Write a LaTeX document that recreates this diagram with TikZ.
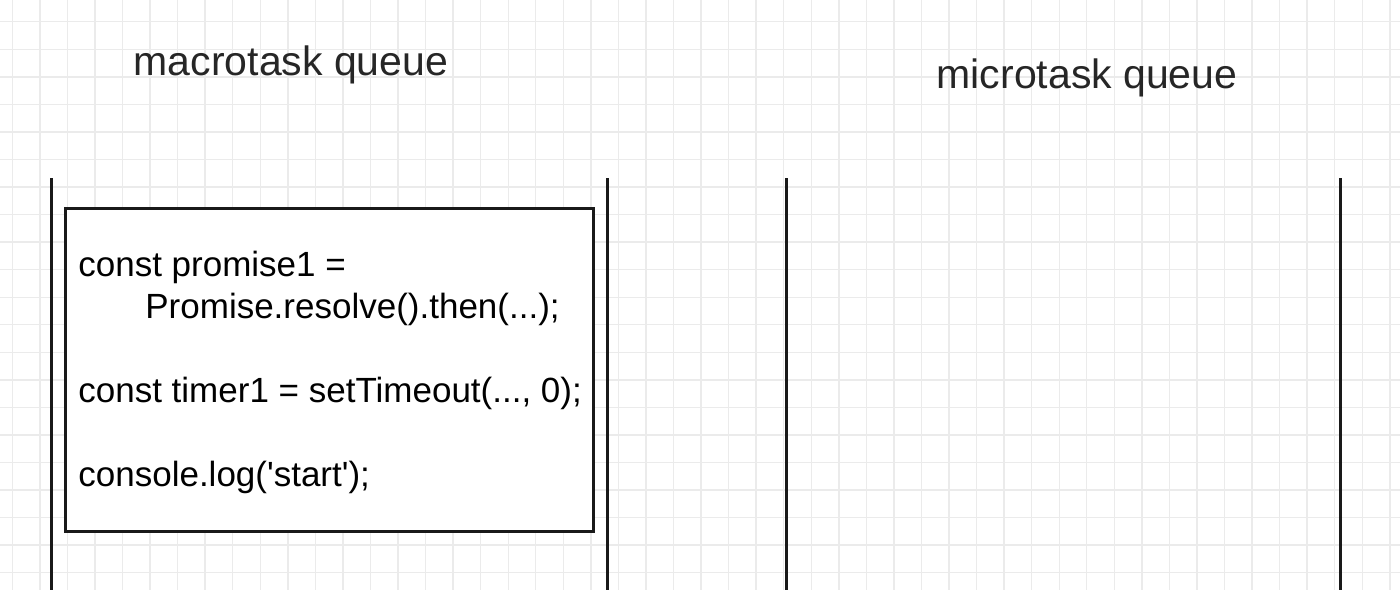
\documentclass[tikz,border=0pt]{standalone}
\usepackage{fontspec}
\setmainfont{Liberation Sans}
\begin{document}
\begin{tikzpicture}[x=0.5pt,y=-0.5pt,
    gridline/.style={draw=black!8,line width=0.7pt},
    wall/.style={draw=black!90,line width=1.5pt},
    title/.style={font=\fontsize{20.5}{24}\selectfont,text=black!85,anchor=base,inner sep=0pt},
    codeline/.style={font=\fontsize{17.5}{21}\selectfont,anchor=base west,inner sep=0pt}]
    \useasboundingbox[fill=white] (0,0) rectangle (1400,590);
    % background grid
    \foreach \i in {0,...,50} \draw[gridline] (12.3+27.55*\i,0)--(12.3+27.55*\i,590);
    \foreach \j in {0,...,20} \draw[gridline] (0,21.7+27.55*\j)--(1400,21.7+27.55*\j);
    % queue titles
    \node[title] at (291,75) (macro_title) {macrotask queue};
    \node[title] at (1087,88) (micro_title) {microtask queue};
    % queue walls
    \draw[wall] (51,178)--(51,590); %macro left
    \draw[wall] (607.5,178)--(607.5,590); %macro right
    \draw[wall] (786,178)--(786,590); %micro left
    \draw[wall] (1340,178)--(1340,590); %micro right
    % script task in the macrotask queue
    \draw[wall,fill=white] (65.7,208.3) rectangle (593.3,531);
    \node[codeline] at (78,276) (line_a) {const promise1 =};
    \node[codeline] at (145,318) (line_b) {Promise.resolve().then(...);};
    \node[codeline] at (78,402) (line_c) {const timer1 = setTimeout(..., 0);};
    \node[codeline] at (78,486) (line_d) {console.log(\textquotesingle start\textquotesingle);};
\end{tikzpicture}
\end{document}
